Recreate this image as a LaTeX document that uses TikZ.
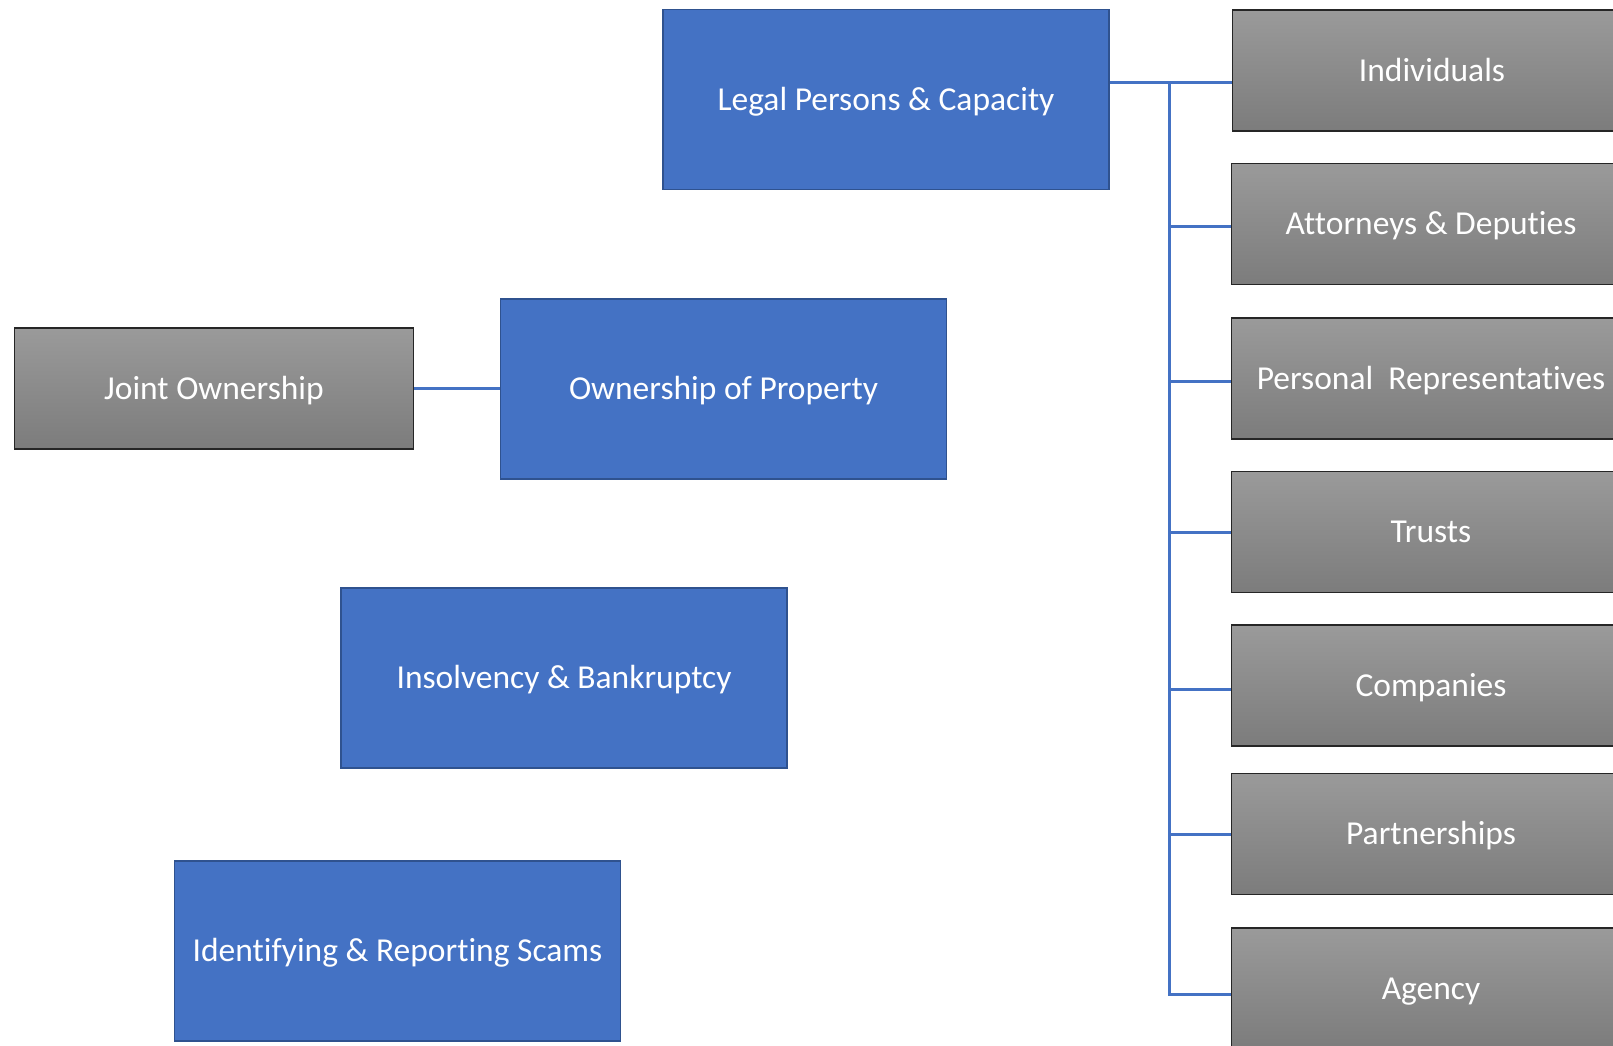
\documentclass[tikz,border=0pt]{standalone}
\usepackage{fontspec}
\setmainfont{Carlito}[Ligatures=NoCommon]
\definecolor{blueF}{HTML}{4472C4}
\definecolor{blueD}{HTML}{2F528F}
\definecolor{grayT}{HTML}{9A9A9A}
\definecolor{grayB}{HTML}{7C7C7C}
\definecolor{grayD}{HTML}{262626}
\begin{document}
\begin{tikzpicture}[x=1pt,y=-1pt,
  boxfont/.style={font=\fontsize{33.5}{40}\selectfont,text height=21.6pt,text depth=0pt},
  bluebox/.style={draw=blueD,line width=1.6pt,fill=blueF,minimum width=446pt,minimum height=180pt,inner sep=0pt,text=white,boxfont},
  graybox/.style={draw=grayD,line width=1.4pt,top color=grayT,bottom color=grayB,minimum width=399pt,minimum height=121pt,inner sep=0pt,text=white,boxfont},
  link/.style={draw=blueF,line width=3pt}]
\useasboundingbox (0,0) rectangle (1613,1045);
\clip (0,0) rectangle (1613,1045);
% blue topics
\node[bluebox] (legal) at (886,99.5) {Legal Persons \& Capacity};
\node[bluebox] (own) at (723.5,389) {Ownership of Property};
\node[bluebox] (insol) at (564,678) {Insolvency \& Bankruptcy};
\node[bluebox] (scam) at (397.5,951) {Identifying \& Reporting Scams};
% gray boxes
\node[graybox] (joint) at (214,388.5) {Joint Ownership};
\node[graybox] (ind) at (1432,70.5) {Individuals};
\node[graybox] (att) at (1431,224) {Attorneys \& Deputies};
\node[graybox] (pers) at (1431,378.5) {Personal\ \ Representatives};
\node[graybox] (trust) at (1431,532) {Trusts};
\node[graybox] (comp) at (1431,685.5) {Companies};
\node[graybox] (part) at (1431,834) {Partnerships};
\node[graybox] (agency) at (1431,988.5) {Agency};
% connector end points
\coordinate (legalout) at ([yshift=17.5pt]legal.east);
\coordinate (indin) at ([yshift=-11.5pt]ind.west);
\coordinate (attin) at ([yshift=-2pt]att.west);
\coordinate (persin) at ([yshift=-3pt]pers.west);
\coordinate (compin) at ([yshift=-3.5pt]comp.west);
\coordinate (agin) at ([yshift=-5.5pt]agency.west);
\coordinate (trunk) at (1169,82);
% connectors
\draw[link] (legalout) -- (indin);
\draw[link] (trunk) -- (trunk |- agin) -- (agin);
\draw[link] (trunk |- attin) -- (attin);
\draw[link] (trunk |- persin) -- (persin);
\draw[link] (trunk |- trust.west) -- (trust.west);
\draw[link] (trunk |- compin) -- (compin);
\draw[link] (trunk |- part.west) -- (part.west);
\draw[link] (joint.east) -- (joint.east -| own.west);
\end{tikzpicture}
\end{document}
